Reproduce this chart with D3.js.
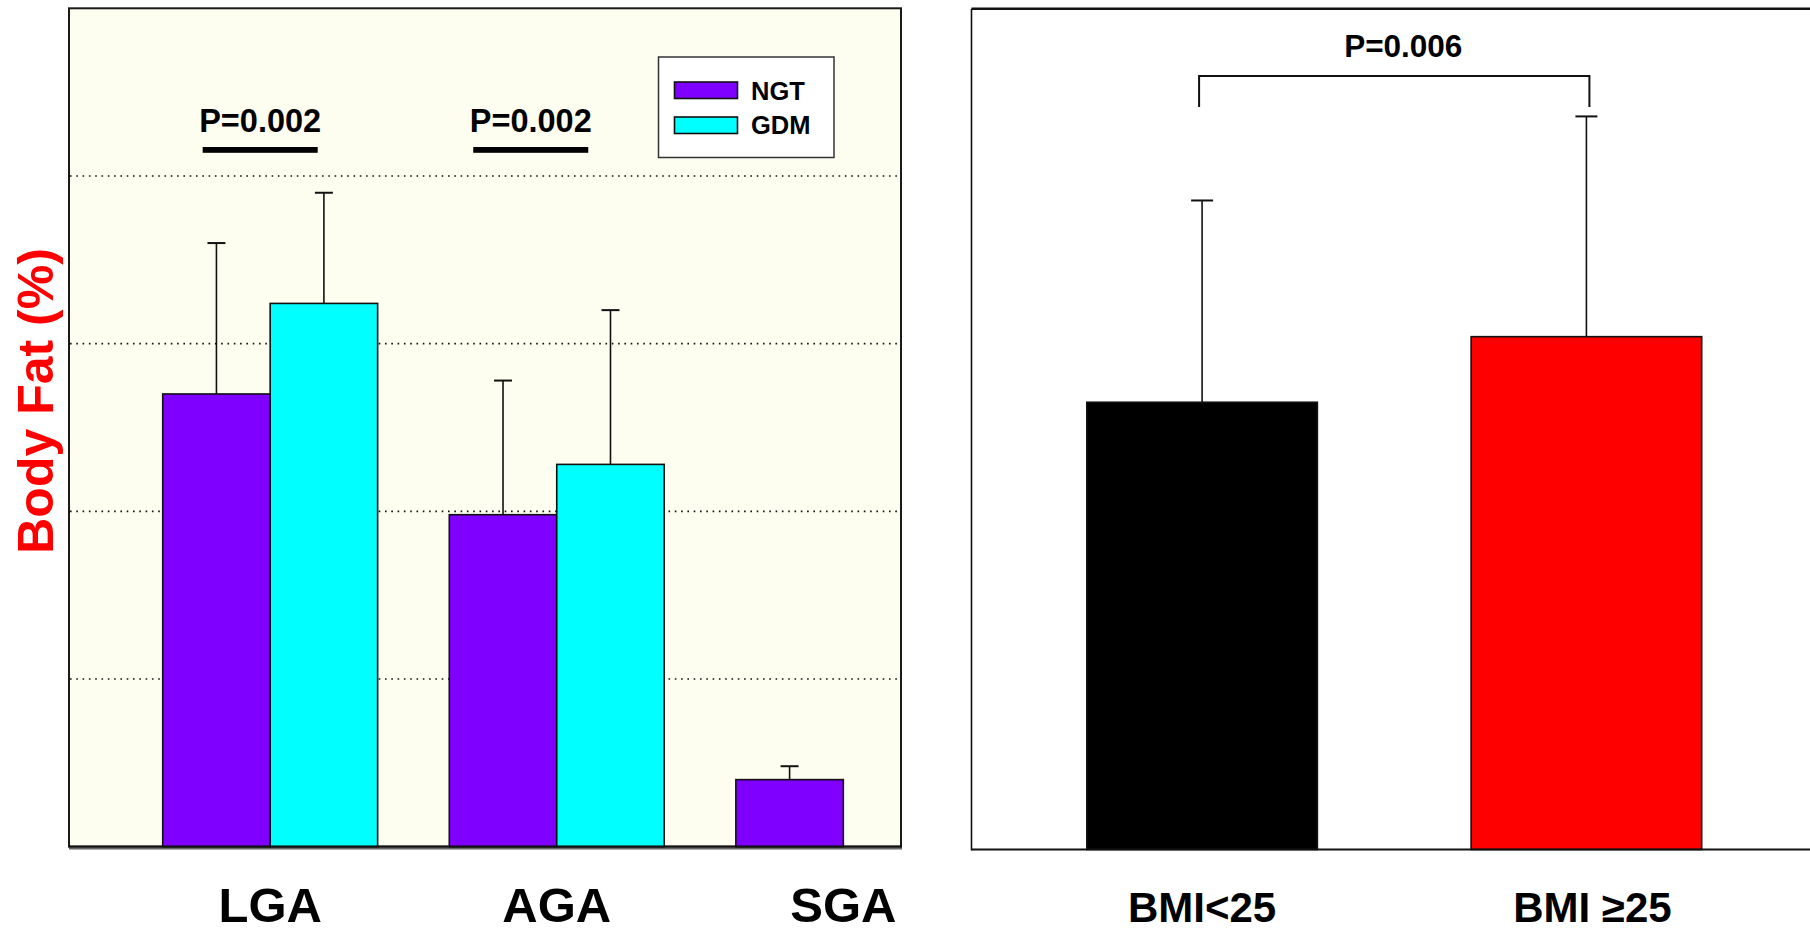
<!DOCTYPE html>
<html>
<head>
<meta charset="utf-8">
<script src="https://cdn.jsdelivr.net/npm/d3@7"></script>
<style>
  html,body{margin:0;padding:0;background:#fff;}
  svg{display:block;font-family:"Liberation Sans",Arial,sans-serif;font-weight:bold;}
</style>
</head>
<body>
<svg id="chart" width="1810" height="928"></svg>
<script>
// ── data (body fat %, mean and +SD) ──
const GROUPS=["LGA","AGA","SGA"];
const SERIES=["NGT","GDM"];
const NGT_MEAN=[13.5,9.9,2.0];
const NGT_SD=[4.5,4.0,0.4];
const GDM_MEAN=[16.2,11.4,null];
const GDM_SD=[3.3,4.6,null];
const BMI_CATS=["BMI<25","BMI \u226525"];
const BMI_MEAN=[13.3,15.25];
const BMI_SD=[6.0,6.55];
const GRID_TICKS=[5,10,15,20];
const P_LEFT=[{g:"LGA",txt:"P=0.002",dx:-10},{g:"AGA",txt:"P=0.002",dx:-26}];
const P_RIGHT="P=0.006";

const COL={NGT:"#8000ff",GDM:"#00ffff"};
const BMI_COL=["#000000","#ff0000"];

const svg=d3.select("#chart");

// ── left panel ──
const L={x0:69,x1:901,top:8.3,base:846.7};
const yL=d3.scaleLinear().domain([0,25]).range([L.base,L.top]);
const xL=d3.scaleBand().domain(GROUPS).range([69,1044.5]).paddingInner(0.25).paddingOuter(0.327);
const xS=d3.scaleBand().domain(SERIES).range([0,xL.bandwidth()]);

svg.append("rect").attr("x",L.x0).attr("y",L.top).attr("width",L.x1-L.x0).attr("height",L.base-L.top)
  .attr("fill","#fefef0").attr("stroke","#1a1a1a").attr("stroke-width",2);

svg.append("g").selectAll("line").data(GRID_TICKS).join("line")
  .attr("x1",L.x0+1).attr("x2",L.x1-1).attr("y1",d=>yL(d)).attr("y2",d=>yL(d))
  .attr("stroke","#111").attr("stroke-width",1.6).attr("stroke-dasharray","1.6,4.7");

const rows=[];
GROUPS.forEach((g,i)=>{
  if(NGT_MEAN[i]!=null)rows.push({g,s:"NGT",m:NGT_MEAN[i],sd:NGT_SD[i]});
  if(GDM_MEAN[i]!=null)rows.push({g,s:"GDM",m:GDM_MEAN[i],sd:GDM_SD[i]});
});
const bx=d=>xL(d.g)+xS(d.s);
// error bars (upper only)
const eb=svg.append("g").attr("stroke","#111").attr("stroke-width",1.6);
rows.forEach(d=>{
  const cx=bx(d)+xS.bandwidth()/2;
  eb.append("line").attr("x1",cx).attr("x2",cx).attr("y1",yL(d.m)).attr("y2",yL(d.m+d.sd));
  eb.append("line").attr("x1",cx-9).attr("x2",cx+9).attr("y1",yL(d.m+d.sd)).attr("y2",yL(d.m+d.sd)).attr("stroke-width",2);
});
svg.append("g").selectAll("rect").data(rows).join("rect")
  .attr("x",bx).attr("width",xS.bandwidth())
  .attr("y",d=>yL(d.m)).attr("height",d=>yL(0)-yL(d.m))
  .attr("fill",d=>COL[d.s]).attr("stroke","#111").attr("stroke-width",1.6);

// bottom double baseline
svg.append("line").attr("x1",L.x0).attr("x2",L.x1+1).attr("y1",846.5).attr("y2",846.5).attr("stroke","#111").attr("stroke-width",2.2);
svg.append("line").attr("x1",L.x0).attr("x2",L.x1+1).attr("y1",848.8).attr("y2",848.8).attr("stroke","#666").attr("stroke-width",1.6);

// p-value notes
P_LEFT.forEach(p=>{
  const cx=xL(p.g)+xL.bandwidth()/2+p.dx;
  svg.append("text").attr("x",cx).attr("y",131.5).attr("text-anchor","middle")
    .attr("font-size",32.5).text(p.txt);
  svg.append("rect").attr("x",cx-57.5).attr("y",147).attr("width",115).attr("height",5.8).attr("fill","#000");
});

// legend
const lg=svg.append("g").attr("transform","translate(658.5,57)");
lg.append("rect").attr("width",175.5).attr("height",100.5).attr("fill","#fff").attr("stroke","#333").attr("stroke-width",1.5);
SERIES.forEach((s,i)=>{
  lg.append("rect").attr("x",16).attr("y",25+i*35).attr("width",63).attr("height",16.5)
    .attr("fill",COL[s]).attr("stroke","#111").attr("stroke-width",1.6);
  lg.append("text").attr("x",92.5).attr("y",43+i*34.3).attr("font-size",25.5).text(s);
});

// y label
svg.append("text").attr("transform","translate(53,401) rotate(-90)").attr("text-anchor","middle")
  .attr("font-size",50).attr("fill","#ff0000").text("Body Fat (%)");

// x labels
svg.append("g").selectAll("text").data(GROUPS).join("text")
  .attr("x",d=>xL(d)+xL.bandwidth()/2).attr("y",921.5).attr("text-anchor","middle")
  .attr("font-size",49).text(d=>d);

// ── right panel ──
const R={x0:971.5,top:8.8,base:849.5};
const yR=d3.scaleLinear().domain([0,25]).range([R.base,R.top]);
const xR=d3.scaleBand().domain(BMI_CATS).range([R.x0,1817]).paddingInner(0.4).paddingOuter(0.3);

const bmi=BMI_CATS.map((c,i)=>({c,m:BMI_MEAN[i],sd:BMI_SD[i],col:BMI_COL[i]}));
const ebR=svg.append("g").attr("stroke","#111").attr("stroke-width",1.6);
bmi.forEach(d=>{
  const cx=xR(d.c)+xR.bandwidth()/2;
  ebR.append("line").attr("x1",cx).attr("x2",cx).attr("y1",yR(d.m)).attr("y2",yR(d.m+d.sd));
  ebR.append("line").attr("x1",cx-11).attr("x2",cx+11).attr("y1",yR(d.m+d.sd)).attr("y2",yR(d.m+d.sd)).attr("stroke-width",2);
});
svg.append("g").selectAll("rect").data(bmi).join("rect")
  .attr("x",d=>xR(d.c)).attr("width",xR.bandwidth())
  .attr("y",d=>yR(d.m)).attr("height",d=>yR(0)-yR(d.m))
  .attr("fill",d=>d.col).attr("stroke","#111").attr("stroke-width",1.6);

// frame: top, left, bottom
svg.append("line").attr("x1",R.x0).attr("x2",1810).attr("y1",R.top).attr("y2",R.top).attr("stroke","#111").attr("stroke-width",2.4);
svg.append("line").attr("x1",R.x0).attr("x2",R.x0).attr("y1",R.top).attr("y2",R.base+1).attr("stroke","#111").attr("stroke-width",1.6);
svg.append("line").attr("x1",R.x0).attr("x2",1810).attr("y1",R.base).attr("y2",R.base).attr("stroke","#111").attr("stroke-width",2);

// bracket + p
const bl=xR(BMI_CATS[0])+xR.bandwidth()/2-3, br=xR(BMI_CATS[1])+xR.bandwidth()/2+3;
svg.append("path").attr("fill","none").attr("stroke","#111").attr("stroke-width",2)
  .attr("d",`M${bl},${yR(22.08)}V${yR(23)}H${br}V${yR(22.08)}`);
svg.append("text").attr("x",(bl+br)/2+9).attr("y",57.3).attr("text-anchor","middle").attr("font-size",31.5).text(P_RIGHT);

svg.append("g").selectAll("text").data(BMI_CATS).join("text")
  .attr("x",(d,i)=>xR(d)+xR.bandwidth()/2+(i?6:0)).attr("y",922).attr("text-anchor","middle")
  .attr("font-size",42).text(d=>d);
</script>
</body>
</html>
